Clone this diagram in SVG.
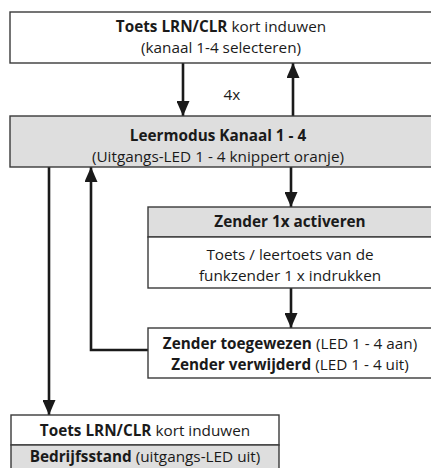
<svg xmlns="http://www.w3.org/2000/svg" width="431" height="468" viewBox="0 0 431 468">
<defs>
<style>
.box{stroke:#3a3a3a;stroke-width:1.4}
.w{fill:#ffffff}
.g{fill:#dedede}
text{font-family:"Open Sans","Liberation Sans",Arial,sans-serif;font-size:15.3px;fill:#1a1a1a;text-anchor:middle}
.b{font-weight:bold}
.c{fill:none;stroke:#1a1a1a;stroke-width:2.6}
</style>
<marker id="ah" markerUnits="userSpaceOnUse" markerWidth="15" markerHeight="13" refX="15" refY="6.5" orient="auto">
<path d="M0,0 L15,6.5 L0,13 z" fill="#1a1a1a"/>
</marker>
</defs>
<rect width="431" height="468" fill="#ffffff"/>

<g id="connectors">
<line class="c" x1="183" y1="63" x2="183" y2="116" marker-end="url(#ah)"/>
<line class="c" x1="293" y1="116" x2="293" y2="63" marker-end="url(#ah)"/>
<text x="232" y="100">4x</text>
<line class="c" x1="291" y1="167" x2="291" y2="207" marker-end="url(#ah)"/>
<line class="c" x1="291" y1="288" x2="291" y2="328" marker-end="url(#ah)"/>
<polyline class="c" points="148,350 91,350 91,167" marker-end="url(#ah)"/>
<line class="c" x1="49" y1="167" x2="49" y2="415" marker-end="url(#ah)"/>
</g>

<g id="n-top">
<rect class="box w" x="10" y="12" width="430" height="51"/>
<text x="221" y="32"><tspan class="b">Toets LRN/CLR</tspan> kort induwen</text>
<text x="221" y="53">(kanaal 1-4 selecteren)</text>
</g>

<g id="n-leermodus">
<rect class="box g" x="10" y="116" width="430" height="51"/>
<text x="218" y="141" class="b">Leermodus Kanaal 1 - 4</text>
<text x="218" y="162">(Uitgangs-LED 1 - 4 knippert oranje)</text>
</g>

<g id="n-zender">
<rect class="box g" x="148" y="207" width="292" height="30"/>
<rect class="box w" x="148" y="237" width="292" height="51"/>
<text x="290" y="227" class="b">Zender 1x activeren</text>
<text x="290" y="260">Toets / leertoets van de</text>
<text x="290" y="281">funkzender 1 x indrukken</text>
</g>

<g id="n-toegewezen">
<rect class="box w" x="148" y="328" width="292" height="50"/>
<text x="290" y="349"><tspan class="b">Zender toegewezen</tspan> (LED 1 - 4 aan)</text>
<text x="290" y="370"><tspan class="b">Zender verwijderd</tspan> (LED 1 - 4 uit)</text>
</g>

<g id="n-bedrijf">
<rect class="box w" x="11" y="415" width="268" height="30"/>
<rect class="box g" x="11" y="445" width="268" height="30"/>
<text x="145" y="436"><tspan class="b">Toets LRN/CLR</tspan> kort induwen</text>
<text x="145" y="462"><tspan class="b">Bedrijfsstand</tspan> (uitgangs-LED uit)</text>
</g>
</svg>
